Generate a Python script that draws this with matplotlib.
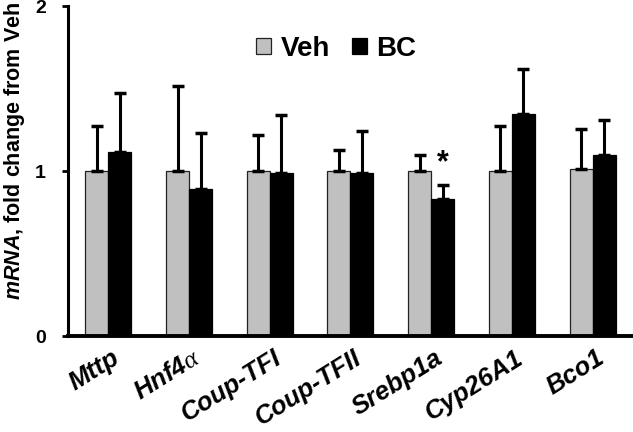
import matplotlib
matplotlib.use("Agg")
import matplotlib.pyplot as plt
import matplotlib.transforms as mtransforms
import numpy as np

genes = ["Mttp", "Hnf4$\\alpha$", "Coup-TFI", "Coup-TFII", "Srebp1a", "Cyp26A1", "Bco1"]
veh_mean = [1.00, 1.00, 1.00, 1.00, 1.00, 1.00, 1.01]
veh_err = [0.27, 0.515, 0.22, 0.13, 0.10, 0.27, 0.245]
bc_mean = [1.115, 0.89, 0.99, 0.99, 0.83, 1.345, 1.10]
bc_err = [0.355, 0.34, 0.35, 0.25, 0.085, 0.275, 0.21]
yticks = [0, 1, 2]
sig_index = 4

plt.rcParams['font.family'] = ['Liberation Sans', 'DejaVu Sans']
plt.rcParams['mathtext.fontset'] = 'custom'
plt.rcParams['mathtext.rm'] = 'Liberation Sans'
plt.rcParams['mathtext.it'] = 'Liberation Serif:italic'
plt.rcParams['mathtext.bf'] = 'Liberation Sans:bold'
plt.rcParams['mathtext.bfit'] = 'Liberation Sans:italic:bold'

fig = plt.figure(figsize=(6.33, 4.32), dpi=100)
ax = fig.add_axes([0.1074, 0.2222, 0.8926, 0.7639])

x = np.arange(len(genes))
w = 0.285
eb = dict(ecolor='black', elinewidth=2.2, capsize=4.3, capthick=2.5)
ax.bar(x - w / 2, veh_mean, w, color='#c0c0c0', edgecolor='#222222', linewidth=0.9,
       yerr=[np.zeros(len(genes)), veh_err], error_kw=eb, label='Veh', zorder=2)
ax.bar(x + w / 2, bc_mean, w, color='black', edgecolor='black', linewidth=0.9,
       yerr=[np.zeros(len(genes)), bc_err], error_kw=eb, label='BC', zorder=2)

ax.text(x[sig_index] + w / 2, 1.045, '*', ha='center', va='center', fontsize=22,
        fontweight='bold')

ax.set_xlim(-0.5, 6.5)
ax.set_ylim(0, 2)
ax.set_yticks(yticks)
ax.set_yticklabels([str(t) for t in yticks], fontsize=14, fontweight='bold')
ax.tick_params(axis='y', direction='out', length=4, width=2, pad=12)
ax.tick_params(axis='x', length=0, pad=2)
ax.set_xticks(x)
ax.set_xticklabels(genes, rotation=32, ha='right', rotation_mode='anchor',
                   fontsize=18.5, fontweight='bold', fontstyle='italic')
offset = mtransforms.ScaledTranslation(0.03, -0.07, fig.dpi_scale_trans)
for lbl in ax.get_xticklabels():
    lbl.set_transform(lbl.get_transform() + offset)

for s in ['top', 'right']:
    ax.spines[s].set_visible(False)
ax.spines['left'].set_linewidth(2.2)
ax.spines['bottom'].set_linewidth(2.8)

ax.set_ylabel(r'$\mathbfit{mRNA}$' + ', fold change from Veh', fontsize=15.5,
              fontweight='bold')
ax.yaxis.set_label_coords(-0.072, 0.56)

leg = ax.legend(loc='upper center', bbox_to_anchor=(0.475, 0.985), ncol=2, frameon=False,
                prop={'weight': 'bold', 'size': 20}, handlelength=0.52, handleheight=0.52,
                handletextpad=0.35, columnspacing=0.8)

fig.savefig('out.png', dpi=100)
